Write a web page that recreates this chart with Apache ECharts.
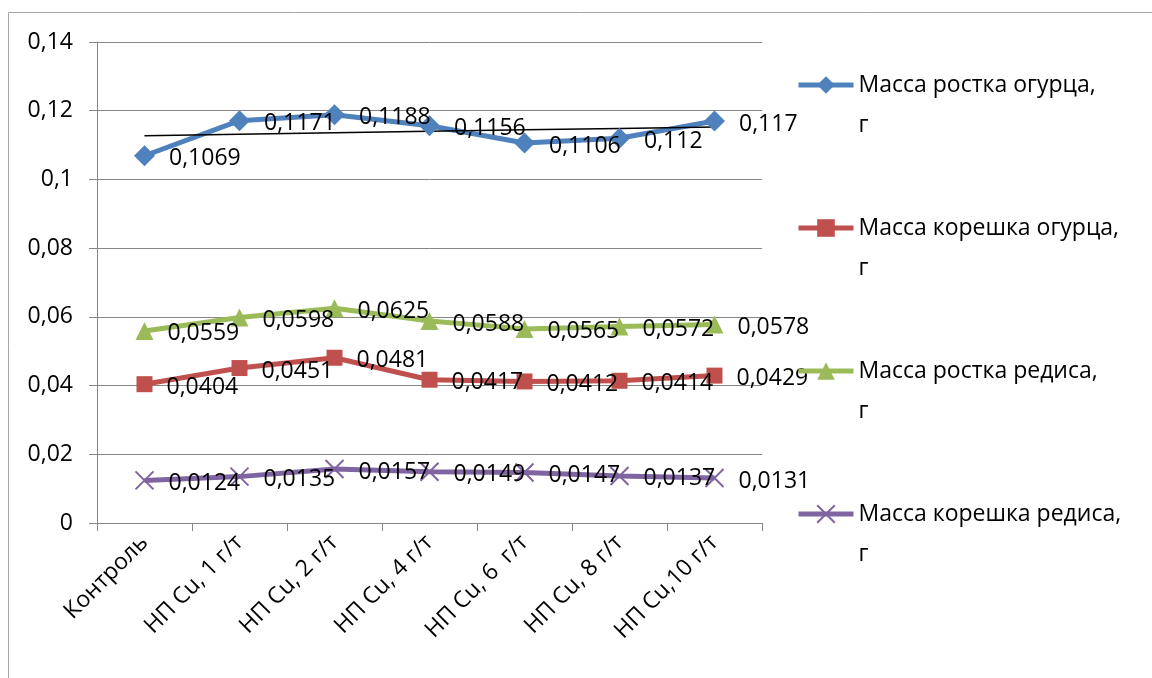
<!DOCTYPE html>
<html>
<head>
<meta charset="utf-8">
<script src="https://cdn.jsdelivr.net/npm/echarts@6/dist/echarts.min.js"></script>
<style>
  html, body { margin: 0; padding: 0; background: #ffffff; }
  #chart { width: 1152px; height: 678px; }
</style>
</head>
<body>
<div id="chart"></div>
<script>
// Categories (treatments) along the x axis
const categories = ['Контроль', 'НП Cu, 1 г/т', 'НП Cu, 2 г/т', 'НП Cu, 4 г/т', 'НП Cu, 6  г/т', 'НП Cu, 8 г/т', 'НП Cu,10 г/т'];

// Series names
const seriesNames = ['Масса ростка огурца, г', 'Масса корешка огурца, г', 'Масса ростка редиса, г', 'Масса корешка редиса, г'];

// Measured masses, g
const cucumberShoot = [0.1069, 0.1171, 0.1188, 0.1156, 0.1106, 0.112, 0.117];
const cucumberRoot  = [0.0404, 0.0451, 0.0481, 0.0417, 0.0412, 0.0414, 0.0429];
const radishShoot   = [0.0559, 0.0598, 0.0625, 0.0588, 0.0565, 0.0572, 0.0578];
const radishRoot    = [0.0124, 0.0135, 0.0157, 0.0149, 0.0147, 0.0137, 0.0131];

// Y axis ticks
const yTicks = [0, 0.02, 0.04, 0.06, 0.08, 0.1, 0.12, 0.14];

const FONT = '"Open Sans", "Noto Sans", sans-serif';
const FONT_SIZE = 23;
const AXIS_GRAY = '#868686';

// Least-squares linear trend for the cucumber shoot series
function linearTrend(values) {
  const n = values.length;
  let sx = 0, sy = 0, sxx = 0, sxy = 0;
  values.forEach((y, i) => { sx += i; sy += y; sxx += i * i; sxy += i * y; });
  const b = (n * sxy - sx * sy) / (n * sxx - sx * sx);
  const a = (sy - b * sx) / n;
  return values.map((_, i) => a + b * i);
}

const commaNum = v => String(v).replace('.', ',');

function dataLabel() {
  return {
    show: true,
    position: 'right',
    distance: 14,
    offset: [0, 3],
    color: '#000',
    fontFamily: FONT,
    fontSize: FONT_SIZE,
    formatter: p => commaNum(p.value)
  };
}

function lineSeries(name, values, color, symbol, symbolSize, extraItemStyle) {
  return {
    name: name,
    type: 'line',
    data: values,
    symbol: symbol,
    symbolSize: symbolSize,
    lineStyle: { color: color, width: 5 },
    itemStyle: Object.assign({ color: color }, extraItemStyle || {}),
    label: dataLabel(),
    emphasis: { disabled: true },
    animation: false
  };
}

const chart = echarts.init(document.getElementById('chart'), null, { renderer: 'canvas' });

chart.setOption({
  backgroundColor: '#ffffff',
  animation: false,
  textStyle: { fontFamily: FONT },
  graphic: [{
    type: 'rect',
    shape: { x: 8.5, y: 12.5, width: 1300, height: 800 },
    style: { fill: 'none', stroke: '#a6a6a6', lineWidth: 1 },
    silent: true,
    z: -10
  }],
  grid: { left: 97, top: 42, right: 390, bottom: 155, containLabel: false },
  legend: {
    data: seriesNames,
    orient: 'vertical',
    left: 796,
    top: 25,
    padding: 0,
    itemWidth: 55,
    itemHeight: 22,
    itemGap: 23,
    selectedMode: false,
    lineStyle: { width: 5 },
    // leading blank line keeps the first text line level with the icon
    formatter: name => '\n' + name.replace(', ', ',\n'),
    textStyle: {
      fontFamily: FONT,
      fontSize: FONT_SIZE,
      color: '#000',
      lineHeight: 40
    }
  },
  xAxis: {
    type: 'category',
    data: categories,
    boundaryGap: true,
    axisLine: { lineStyle: { color: AXIS_GRAY, width: 1 } },
    axisTick: { show: true, length: 8, lineStyle: { color: AXIS_GRAY } },
    axisLabel: {
      interval: 0,
      rotate: 45,
      margin: 16,
      color: '#000',
      fontFamily: FONT,
      fontSize: FONT_SIZE
    }
  },
  yAxis: {
    type: 'value',
    min: yTicks[0],
    max: yTicks[yTicks.length - 1],
    interval: yTicks[1] - yTicks[0],
    axisLine: { show: true, lineStyle: { color: AXIS_GRAY, width: 1 } },
    axisTick: { show: true, length: 8, lineStyle: { color: AXIS_GRAY } },
    splitLine: { show: true, lineStyle: { color: AXIS_GRAY, width: 1 } },
    axisLabel: {
      margin: 24,
      color: '#000',
      fontFamily: FONT,
      fontSize: FONT_SIZE,
      formatter: v => commaNum(+v.toFixed(4))
    }
  },
  series: [
    lineSeries(seriesNames[0], cucumberShoot, '#4f81bd', 'diamond', 21),
    {
      name: 'Линейная (Масса ростка огурца, г)',
      type: 'line',
      data: linearTrend(cucumberShoot),
      symbol: 'none',
      lineStyle: { color: '#000', width: 1.5 },
      emphasis: { disabled: true },
      silent: true
    },
    lineSeries(seriesNames[1], cucumberRoot, '#c0504d', 'rect', 16),
    lineSeries(seriesNames[2], radishShoot, '#9bbb59', 'triangle', 18),
    lineSeries(seriesNames[3], radishRoot, '#8064a2', 'path://M0,0L10,10M10,0L0,10', 18,
      { color: 'rgba(0,0,0,0)', borderColor: '#8064a2', borderWidth: 2 })
  ]
});
</script>
</body>
</html>
